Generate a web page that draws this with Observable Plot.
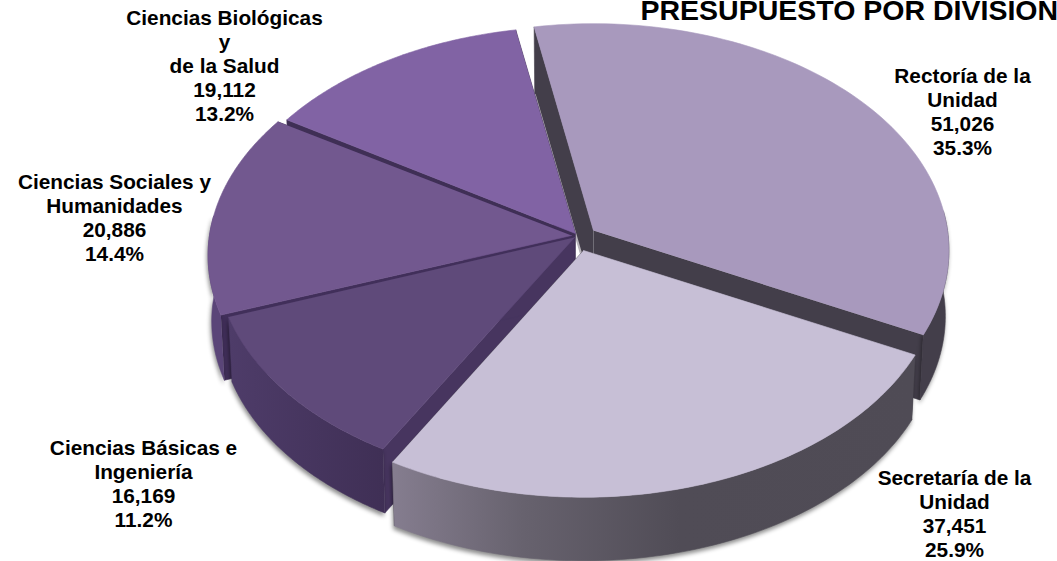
<!DOCTYPE html>
<html>
<head>
<meta charset="utf-8">
<script src="https://cdn.jsdelivr.net/npm/d3@7"></script>
<script src="https://cdn.jsdelivr.net/npm/@observablehq/plot@0.6"></script>
<style>
html,body{margin:0;padding:0;background:#fff;overflow:hidden}
.outer-wall{filter:drop-shadow(-1px 3px 2px rgba(0,0,0,.45))}
</style>
</head>
<body>
<div id="chart"></div>
<script>
// Data
const names = ["Rectoría de la\nUnidad","Secretaría de la\nUnidad","Ciencias Básicas e\nIngeniería","Ciencias Sociales y\nHumanidades","Ciencias Biológicas\ny\nde la Salud"];
const values = [51026,37451,16169,20886,19112];
const titleText = "PRESUPUESTO POR DIVISIÓN";

// Colours
const topColors = ["#a899bd","#c7bfd6","#5f4a7a","#72588f","#8163a4"];
const radialColors = ["#433e4a","#4f4b55","#47355f","#412f5a","#3f2f55"];
const wallColors = ["#433e4a","url(#secWall)","url(#basWall)","#5a4578","#5e4880"];

// Layout (page units)
const W = 1057, H = 561;
const ry = 225, persp = 0.088, depth = 66, bottomShrink = 0.99;
const startDeg = -10.5;
const wallFrom = 85*Math.PI/180, wallTo = 275*Math.PI/180;
const rxs = [354,356,357,362,356];
const apexX = [593,583,574,571,575];
const apexY = [230,250,237,235,233];
const labelX = [962,954,143,114,224];
const labelY = [111,512.5,483,217,64.5];
const drawOrder = [0,4,3,2,1];

const total = d3.sum(values);
const arcs = d3.pie().sort(null).startAngle(startDeg*Math.PI/180).endAngle((startDeg+360)*Math.PI/180)(values);

function pt(i, a, shrink, drop){
  const X = Math.sin(a), Y = -Math.cos(a), s = 1/(1-persp*Y);
  return {x: apexX[i]+rxs[i]*X*s*shrink, y: apexY[i]+ry*Y*s*shrink+drop};
}
function arcPts(i, a0, a1, shrink, drop, rev){
  const n = 90, out = [];
  for(let k=0;k<=n;k++){ out.push(pt(i, a0+(a1-a0)*k/n, shrink, drop)); }
  return rev ? out.reverse() : out;
}
function poly(pts, fill, className){
  return Plot.line(pts, {x:"x", y:"y", fill, stroke:fill, strokeWidth:0.6, curve:"linear", className});
}
const apexTop = i => ({x:apexX[i], y:apexY[i]});
const apexBot = i => ({x:apexX[i], y:apexY[i]+depth});

const sliceMarks = [];
for(const i of drawOrder){
  const {startAngle:a0,endAngle:a1} = arcs[i];
  sliceMarks.push(poly([apexTop(i),pt(i,a0,1,0),pt(i,a0,bottomShrink,depth),apexBot(i)], radialColors[i]));
  sliceMarks.push(poly([apexTop(i),pt(i,a1,1,0),pt(i,a1,bottomShrink,depth),apexBot(i)], radialColors[i]));
  const w0 = Math.max(a0,wallFrom), w1 = Math.min(a1,wallTo);
  if(w0 < w1){
    sliceMarks.push(poly(arcPts(i,w0,w1,1,0,false).concat(arcPts(i,w0,w1,bottomShrink,depth,true)), wallColors[i], "outer-wall"));
  }
  if(i===0){
    sliceMarks.push(Plot.line([pt(i,a0,bottomShrink,depth),apexBot(i)],{x:"x",y:"y",stroke:"#b8b4bb",strokeWidth:2.2}));
  }
  sliceMarks.push(poly([apexTop(i)].concat(arcPts(i,a0,a1,1,0,false)), topColors[i]));
}

const labels = names.map((n,i)=>({
  text: n+"\n"+d3.format(",")(values[i])+"\n"+d3.format(".1%")(values[i]/total),
  x: labelX[i], y: labelY[i]
}));

function defs(){
  const ns = "http://www.w3.org/2000/svg";
  const d = document.createElementNS(ns,"defs");
  d.innerHTML = `<linearGradient id="secWall" gradientUnits="userSpaceOnUse" x1="392" x2="915" y1="0" y2="0">
    <stop offset="0" stop-color="#857d8f"/><stop offset="0.25" stop-color="#67626e"/><stop offset="0.55" stop-color="#504c56"/><stop offset="1" stop-color="#4f4b55"/></linearGradient>
    <linearGradient id="basWall" gradientUnits="userSpaceOnUse" x1="228" x2="386" y1="0" y2="0">
    <stop offset="0" stop-color="#4e3c69"/><stop offset="1" stop-color="#3f2f55"/></linearGradient>`;
  return d;
}

const chart = Plot.plot({
  width:W, height:H, margin:0,
  x:{domain:[0,W], range:[0,W], axis:null},
  y:{domain:[0,H], range:[0,H], axis:null},
  style:{background:"#fff", fontFamily:"'Liberation Sans',Arial,sans-serif"},
  marks:[
    defs,
    ...sliceMarks,
    Plot.text(labels,{x:"x",y:"y",text:"text",fontSize:20.8,fontWeight:"bold",lineHeight:1.154,fill:"#000",textAnchor:"middle",lineAnchor:"middle"}),
    Plot.text([titleText],{x:[640],y:[10],text:d=>d,fontSize:28.5,fontWeight:"bold",fill:"#000",textAnchor:"start"})
  ]
});
document.getElementById("chart").appendChild(chart);
</script>
</body>
</html>
